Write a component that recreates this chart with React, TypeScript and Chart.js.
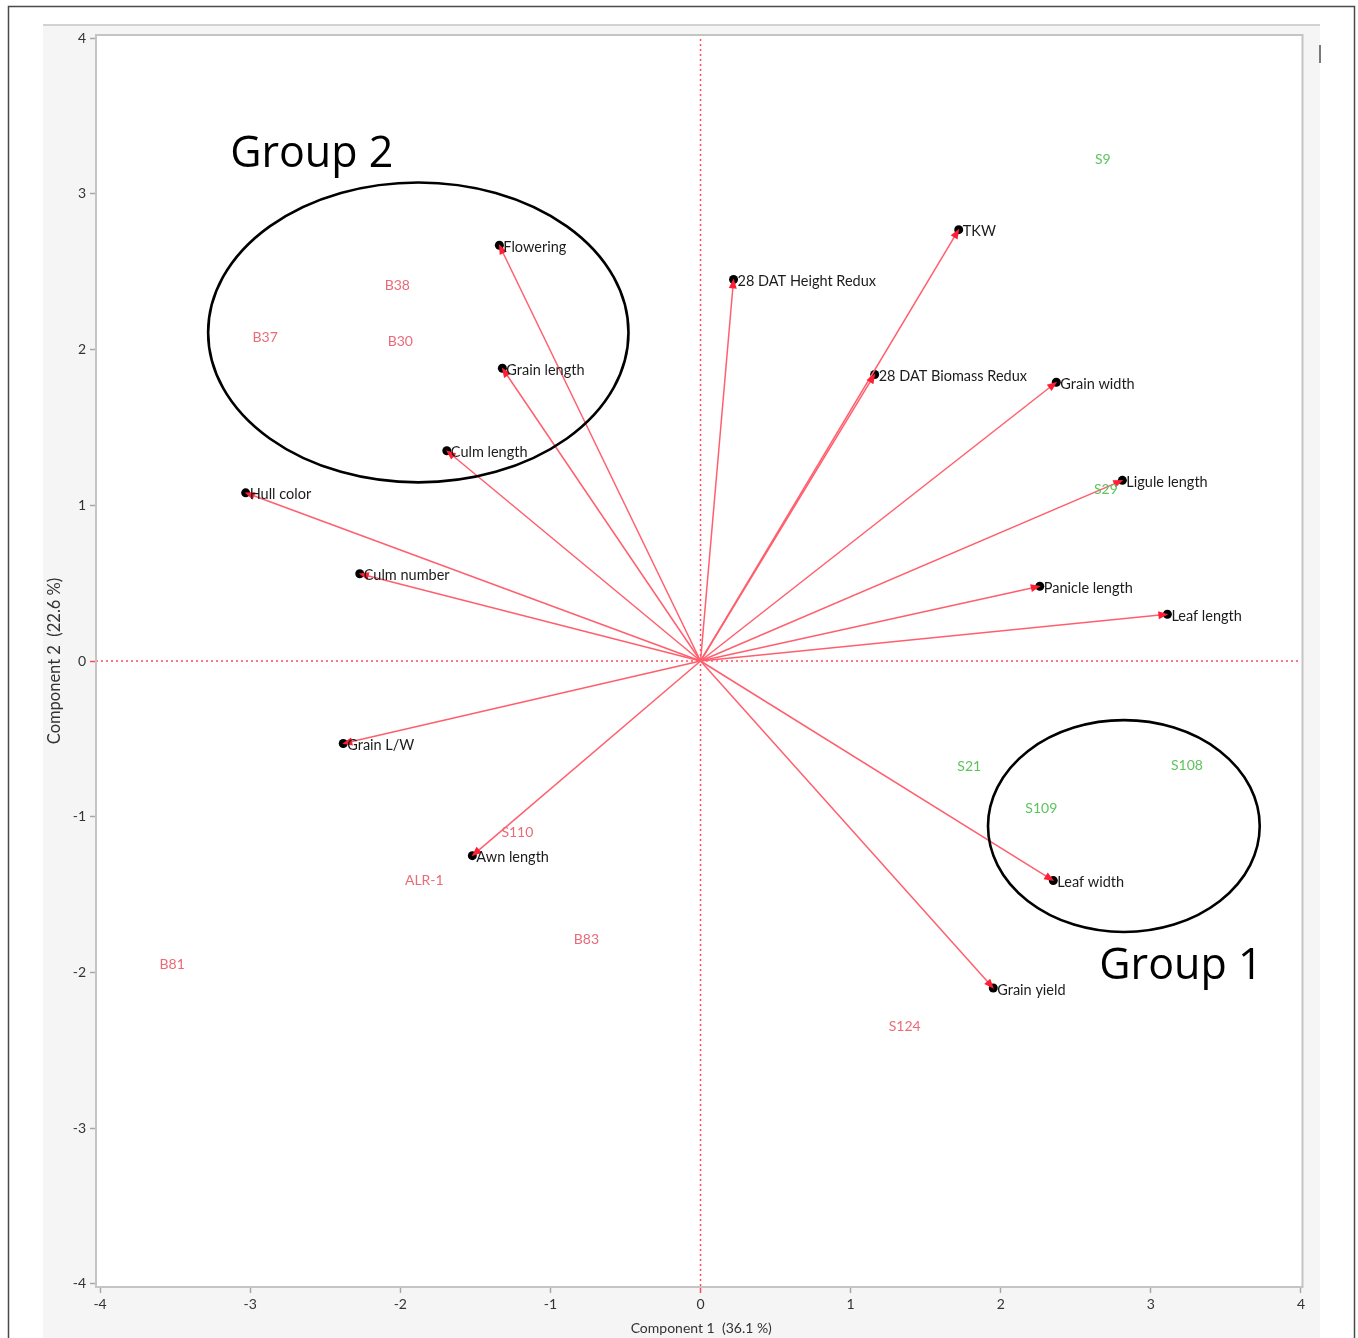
import { useEffect, useRef } from "react";
import { Chart, registerables } from "chart.js";

Chart.register(...registerables);

// Trait loadings (vectors drawn from the origin)
const traitNames = [
  "Flowering",
  "Grain length",
  "Culm length",
  "Hull color",
  "Culm number",
  "Grain L/W",
  "Awn length",
  "28 DAT Height Redux",
  "TKW",
  "28 DAT Biomass Redux",
  "Grain width",
  "Ligule length",
  "Panicle length",
  "Leaf length",
  "Leaf width",
  "Grain yield",
];
const traitPC1 = [-1.34, -1.32, -1.69, -3.03, -2.27, -2.38, -1.52, 0.22, 1.72, 1.16, 2.37, 2.81, 2.26, 3.11, 2.35, 1.95];
const traitPC2 = [2.67, 1.88, 1.35, 1.08, 0.56, -0.53, -1.25, 2.45, 2.77, 1.84, 1.79, 1.16, 0.48, 0.3, -1.41, -2.1];

// Genotype scores (drawn as text labels); class 0 = red, 1 = green
const genotypeNames = ["B38", "B37", "B30", "S110", "ALR-1", "B83", "B81", "S124", "S9", "S29", "S21", "S109", "S108"];
const genotypePC1 = [-2.02, -2.9, -2.0, -1.22, -1.84, -0.76, -3.52, 1.36, 2.68, 2.7, 1.79, 2.27, 3.24];
const genotypePC2 = [2.41, 2.08, 2.05, -1.1, -1.41, -1.79, -1.95, -2.35, 3.22, 1.1, -0.68, -0.95, -0.67];
const genotypeClass = [0, 0, 0, 0, 0, 0, 0, 0, 1, 1, 1, 1, 1];

// Group outlines (ellipses in component units) and their captions
const groupNames = ["Group 2", "Group 1"];
const groupCenterX = [-1.88, 2.82];
const groupCenterY = [2.11, -1.06];
const groupRadiusX = [1.4, 0.905];
const groupRadiusY = [0.963, 0.68];
const groupCaptionX = [-2.59, 3.2];
const groupCaptionY = [3.17, -2.04];

const tickValues = [-4, -3, -2, -1, 0, 1, 2, 3, 4];
const xTitle = "Component 1  (36.1 %)";
const yTitle = "Component 2  (22.6 %)";

const W = 1358;
const H = 1338;
const FONT = "Lato, 'Noto Sans', sans-serif";
const VECTOR_COLOR = "#ff5f6d";
const ARROW_COLOR = "#ff1f35";
const REF_COLOR = "#ff4a5c";
const CLASS_COLORS = ["#eb6a78", "#5cc45c"];

const biplotPlugin = {
  id: "biplotDecor",
  beforeDraw(chart: any) {
    const { ctx, chartArea: a } = chart;
    ctx.save();
    ctx.fillStyle = "#ffffff";
    ctx.fillRect(0, 0, W, H);
    // grey report panel
    ctx.fillStyle = "#f5f5f5";
    ctx.fillRect(43, 25, 1320 - 43, H - 25);
    ctx.strokeStyle = "#d2d2d2";
    ctx.lineWidth = 2;
    ctx.beginPath();
    ctx.moveTo(43, 25);
    ctx.lineTo(1320, 25);
    ctx.stroke();
    // outer frame
    ctx.strokeStyle = "#4a4a4a";
    ctx.lineWidth = 1.5;
    ctx.strokeRect(8.5, 6.5, 1346, H + 10);
    // small handle at top right
    ctx.strokeStyle = "#7a7a7a";
    ctx.lineWidth = 2;
    ctx.beginPath();
    ctx.moveTo(1320, 45);
    ctx.lineTo(1320, 63);
    ctx.stroke();
    // white plotting frame
    ctx.fillStyle = "#ffffff";
    ctx.fillRect(a.left, a.top, a.right - a.left, a.bottom - a.top);
    ctx.restore();
  },
  beforeDatasetsDraw(chart: any) {
    const { ctx, chartArea: a, scales } = chart;
    const x0 = scales.x.getPixelForValue(0);
    const y0 = scales.y.getPixelForValue(0);
    ctx.save();
    ctx.strokeStyle = REF_COLOR;
    ctx.lineWidth = 1.5;
    ctx.setLineDash([2, 3]);
    ctx.beginPath();
    ctx.moveTo(x0, a.top + 4);
    ctx.lineTo(x0, a.bottom);
    ctx.moveTo(a.left, y0);
    ctx.lineTo(a.right - 2, y0);
    ctx.stroke();
    ctx.restore();
  },
  afterDatasetsDraw(chart: any) {
    const { ctx, chartArea: a, scales } = chart;
    const xs = scales.x;
    const ys = scales.y;
    ctx.save();

    // plot border
    ctx.strokeStyle = "#c4c4c4";
    ctx.lineWidth = 2;
    ctx.strokeRect(a.left, a.top, a.right - a.left, a.bottom - a.top);

    // arrowheads and trait labels
    ctx.font = `14.5px ${FONT}`;
    ctx.textBaseline = "middle";
    ctx.textAlign = "left";
    traitNames.forEach((name, i) => {
      const meta = chart.getDatasetMeta(i);
      const p0 = meta.data[0];
      const p1 = meta.data[1];
      const ang = Math.atan2(p1.y - p0.y, p1.x - p0.x);
      const len = 9;
      const half = 4;
      const bx = p1.x - Math.cos(ang) * len;
      const by = p1.y - Math.sin(ang) * len;
      ctx.fillStyle = ARROW_COLOR;
      ctx.beginPath();
      ctx.moveTo(p1.x + Math.cos(ang) * 1, p1.y + Math.sin(ang) * 1);
      ctx.lineTo(bx - Math.sin(ang) * half, by + Math.cos(ang) * half);
      ctx.lineTo(bx + Math.sin(ang) * half, by - Math.cos(ang) * half);
      ctx.closePath();
      ctx.fill();
      ctx.fillStyle = "#1c1c1c";
      ctx.fillText(name, p1.x + 4, p1.y + 2);
    });

    // genotype labels
    const gMeta = chart.getDatasetMeta(traitNames.length);
    ctx.textAlign = "center";
    ctx.font = `14px ${FONT}`;
    genotypeNames.forEach((name, j) => {
      const el = gMeta.data[j];
      ctx.fillStyle = CLASS_COLORS[genotypeClass[j]];
      ctx.fillText(name, el.x, el.y);
    });

    // group ellipses
    ctx.strokeStyle = "#000000";
    ctx.lineWidth = 2.6;
    groupNames.forEach((_, k) => {
      const cx = xs.getPixelForValue(groupCenterX[k]);
      const cy = ys.getPixelForValue(groupCenterY[k]);
      const rx = Math.abs(xs.getPixelForValue(groupCenterX[k] + groupRadiusX[k]) - cx);
      const ry = Math.abs(ys.getPixelForValue(groupCenterY[k] + groupRadiusY[k]) - cy);
      ctx.beginPath();
      ctx.ellipse(cx, cy, rx, ry, 0, 0, Math.PI * 2);
      ctx.stroke();
    });

    // group captions
    ctx.fillStyle = "#000000";
    ctx.font = `43px 'Open Sans', ${FONT}`;
    ctx.textAlign = "center";
    ctx.textBaseline = "alphabetic";
    groupNames.forEach((name, k) => {
      ctx.fillText(name, xs.getPixelForValue(groupCaptionX[k]), ys.getPixelForValue(groupCaptionY[k]));
    });

    // axis titles
    ctx.fillStyle = "#333333";
    ctx.font = `14px ${FONT}`;
    ctx.textBaseline = "middle";
    ctx.fillText(xTitle, (a.left + a.right) / 2 + 2, 1328);
    ctx.font = `16.5px ${FONT}`;
    ctx.translate(55, (a.top + a.bottom) / 2);
    ctx.rotate(-Math.PI / 2);
    ctx.fillText(yTitle, 0, 0);
    ctx.restore();
  },
};

export default function App() {
  const canvasRef = useRef<HTMLCanvasElement | null>(null);

  useEffect(() => {
    if (!canvasRef.current) return;

    const vectorSets = traitNames.map((name, i) => ({
      label: name,
      data: [
        { x: 0, y: 0 },
        { x: traitPC1[i], y: traitPC2[i] },
      ],
      showLine: true,
      borderColor: VECTOR_COLOR,
      borderWidth: 1.5,
      pointRadius: [0, 4.5],
      pointBackgroundColor: "#000000",
      pointBorderWidth: 0,
    }));

    const genotypeSet = {
      label: "Genotypes",
      data: genotypeNames.map((_, j) => ({ x: genotypePC1[j], y: genotypePC2[j] })),
      showLine: false,
      pointRadius: 0,
    };

    const tickColor = (c: any) => (c.tick && c.tick.value === 0 ? REF_COLOR : "#a8a8a8");
    const setTicks = (s: any) => {
      s.ticks = tickValues.map((v) => ({ value: v }));
    };

    const chart = new Chart(canvasRef.current, {
      type: "scatter",
      data: { datasets: [...vectorSets, genotypeSet] as any },
      options: {
        animation: false,
        responsive: false,
        events: [],
        layout: { padding: { left: 0, top: 35, right: W - 1302.5, bottom: 0 } },
        plugins: { legend: { display: false }, tooltip: { enabled: false } },
        scales: {
          x: {
            type: "linear",
            min: -4.027,
            max: 4.01,
            afterBuildTicks: setTicks,
            afterFit: (s: any) => {
              s.height = H - 1287;
            },
            border: { display: false },
            grid: {
              drawOnChartArea: false,
              drawTicks: true,
              tickLength: 6,
              tickColor: tickColor,
              tickWidth: 1.5,
              color: tickColor,
            },
            ticks: {
              padding: 3,
              color: "#333333",
              font: { family: FONT, size: 14 },
              callback: (v: any) => String(v),
              maxRotation: 0,
            },
          },
          y: {
            type: "linear",
            min: -4.02,
            max: 4.02,
            afterBuildTicks: setTicks,
            afterFit: (s: any) => {
              s.width = 96;
            },
            border: { display: false },
            grid: {
              drawOnChartArea: false,
              drawTicks: true,
              tickLength: 6,
              tickColor: tickColor,
              tickWidth: 1.5,
              color: tickColor,
            },
            ticks: {
              padding: 4,
              color: "#333333",
              font: { family: FONT, size: 14 },
              callback: (v: any) => String(v),
            },
          },
        },
      },
      plugins: [biplotPlugin],
    });

    return () => chart.destroy();
  }, []);

  return (
    <div style={{ position: "absolute", left: 0, top: 0, width: W, height: H }}>
      <canvas ref={canvasRef} width={W} height={H} style={{ display: "block" }} />
    </div>
  );
}
